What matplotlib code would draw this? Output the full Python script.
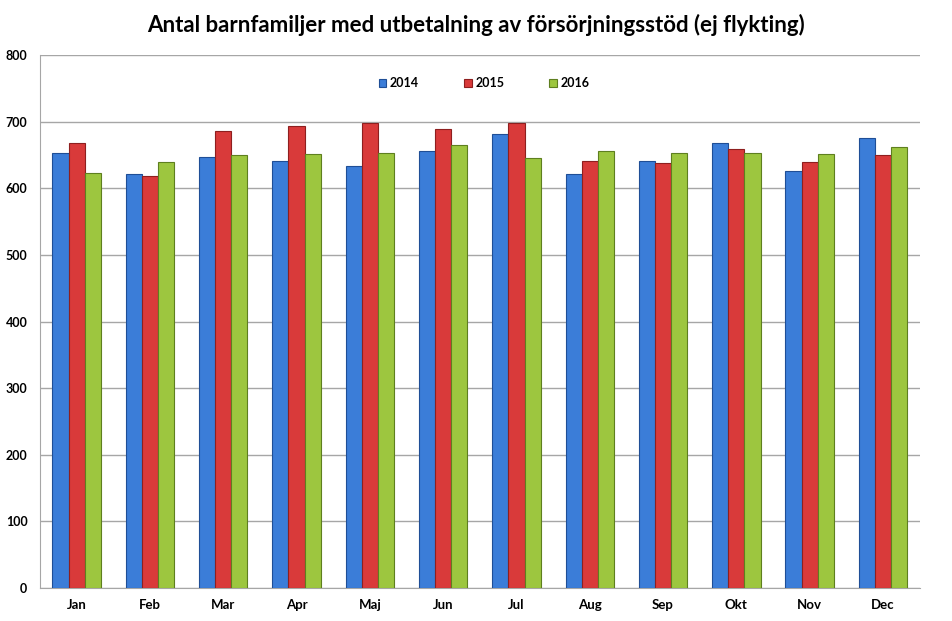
import matplotlib
matplotlib.use("Agg")
import matplotlib.pyplot as plt
import numpy as np

months = ["Jan", "Feb", "Mar", "Apr", "Maj", "Jun", "Jul", "Aug", "Sep", "Okt", "Nov", "Dec"]
years = ["2014", "2015", "2016"]
v2014 = [654, 622, 648, 642, 633, 656, 682, 621, 641, 668, 626, 676]
v2015 = [669, 618, 686, 694, 698, 690, 698, 641, 638, 660, 640, 650]
v2016 = [623, 639, 651, 652, 653, 666, 646, 656, 654, 654, 652, 663]
yticks = [0, 100, 200, 300, 400, 500, 600, 700, 800]
title = "Antal barnfamiljer med utbetalning av försörjningsstöd (ej flykting)"

colors = ["#3B7DD8", "#D93A3A", "#9DC63F"]
edges = ["#1F4E96", "#8E1F1F", "#5E7F1F"]

plt.rcParams['font.family'] = ['Lato', 'DejaVu Sans']

fig = plt.figure(figsize=(9.52, 6.21), dpi=100)
ax = fig.add_axes([0.042, 0.053, 0.924, 0.858])

x = np.arange(len(months))
w = 0.22
for i, (vals, lab) in enumerate(zip([v2014, v2015, v2016], years)):
    ax.bar(x + (i - 1) * w, vals, width=w, color=colors[i], edgecolor=edges[i],
           linewidth=0.8, label=lab, zorder=3)

ax.set_xlim(-0.5, len(months) - 0.5)
ax.set_ylim(0, 800)
ax.set_yticks(yticks)
ax.set_yticklabels([str(t) for t in yticks], fontsize=9, fontweight='bold')
ax.set_xticks(x)
ax.set_xticklabels(months, fontsize=9.5, fontweight='bold')
ax.yaxis.grid(True, color="#A6A6A6", linewidth=1, zorder=0)
ax.tick_params(axis='x', length=0, pad=8)
ax.tick_params(axis='y', length=0, pad=9)
for s in ["top", "right"]:
    ax.spines[s].set_visible(False)
ax.spines["left"].set_color("#A6A6A6")
ax.spines["bottom"].set_color("#A6A6A6")

leg = ax.legend(loc='upper center', bbox_to_anchor=(0.505, 0.98), ncol=3, frameon=False,
                prop={'weight': 'bold', 'size': 9}, handlelength=0.6, handleheight=0.6,
                columnspacing=3.6, handletextpad=0.3)

fig.text(0.5, 0.96, title, ha='center', va='center', fontsize=16, fontweight='bold')

fig.savefig("out.png", dpi=100)
